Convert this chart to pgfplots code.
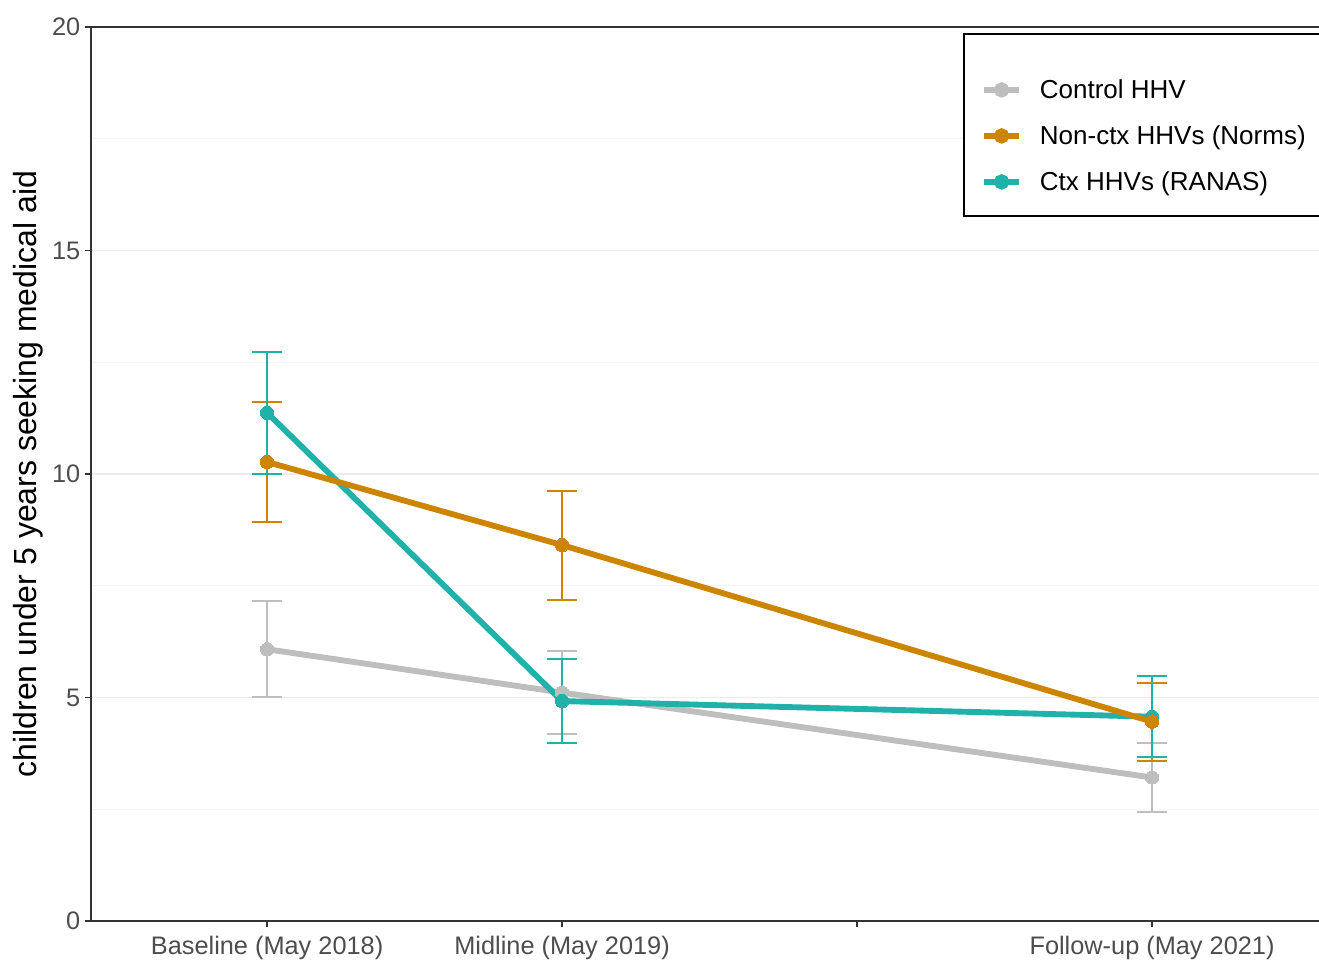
\documentclass[border=0pt]{standalone}
\usepackage{fontspec}
\setmainfont{Liberation Sans}
\usepackage{pgfplots}
\pgfplotsset{compat=1.18}
\definecolor{ctrl}{HTML}{BEBEBE}
\definecolor{norms}{HTML}{CD8500}
\definecolor{ranas}{HTML}{20B2AA}
\definecolor{axisgray}{HTML}{333333}
\definecolor{ticktext}{HTML}{4D4D4D}
\definecolor{gridmaj}{HTML}{EBEBEB}
\definecolor{gridmin}{HTML}{F4F4F4}
\begin{document}
\begin{tikzpicture}
\begin{axis}[
  scale only axis, width=921pt, height=670.5pt,
  xmin=2017.403, xmax=2021.566, ymin=0, ymax=20,
  axis x line*=box, axis y line*=left,
  axis line style={axisgray, line width=1.1pt},
  xtick={2018,2019,2020,2021},
  xticklabels={Baseline (May 2018),Midline (May 2019),,Follow-up (May 2021)},
  ytick={0,5,10,15,20},
  minor ytick={2.5,7.5,12.5,17.5},
  xtick pos=left, ytick pos=left,
  tick align=outside,
  major tick length=4.5pt, minor tick length=0pt,
  major tick style={axisgray, line width=1.1pt},
  minor tick style={draw=none},
  ymajorgrids=true, yminorgrids=true,
  major grid style={gridmaj, line width=1pt},
  minor grid style={gridmin, line width=0.8pt},
  ticklabel style={font=\fontsize{19}{22}\selectfont, text=ticktext},
  xticklabel style={yshift=-3.5pt},
  /pgf/number format/assume math mode=true,
  ylabel={children under 5 years seeking medical aid},
  ylabel style={font=\fontsize{24}{28}\selectfont, text=black, at={(axis description cs:-0.0513,0.5)}, anchor=center},
  legend cell align=left,
  legend image code/.code={\draw[#1, mark=none] (0pt,0pt) -- (26pt,0pt); \fill[#1] (13pt,0pt) circle (3.5pt);},
  legend style={at={(0.711,0.992)}, anchor=north west, draw=none, fill=none,
    font=\fontsize{19.5}{23}\selectfont, inner xsep=12.75pt, inner ysep=13.5pt,
    nodes={inner sep=0pt}, column sep=13.5pt, row sep=18.75pt},
]
% error bars (drawn first, under lines)
\addplot[forget plot, draw=none, mark=none,
  error bars/.cd, y dir=both, y explicit,
  error bar style={draw=ctrl, line width=1.5pt},
  error mark options={draw=ctrl, line width=1.5pt, mark size=11pt, rotate=90}]
  coordinates {(2018,6.08) +- (0,1.07) (2019,5.11) +- (0,0.93) (2021,3.21) +- (0,0.78)};
\addplot[forget plot, draw=none, mark=none,
  error bars/.cd, y dir=both, y explicit,
  error bar style={draw=norms, line width=1.5pt},
  error mark options={draw=norms, line width=1.5pt, mark size=11pt, rotate=90}]
  coordinates {(2018,10.27) +- (0,1.34) (2019,8.41) +- (0,1.22) (2021,4.46) +- (0,0.87)};
\addplot[forget plot, draw=none, mark=none,
  error bars/.cd, y dir=both, y explicit,
  error bar style={draw=ranas, line width=1.5pt},
  error mark options={draw=ranas, line width=1.5pt, mark size=11pt, rotate=90}]
  coordinates {(2018,11.37) +- (0,1.37) (2019,4.92) +- (0,0.945) (2021,4.57) +- (0,0.91)};
% empty first legend row (legend title space)
\addlegendimage{empty legend}
\addlegendentry{}
% lines with points
\addplot[ctrl, line width=4.4pt, mark=*, mark size=5pt, mark options={solid, line width=0pt}]
  coordinates {(2018,6.08) (2019,5.11) (2021,3.21)};
\addlegendentry{\raisebox{0pt}[14.25pt][5.25pt]{Control HHV}}
\addplot[ranas, line width=4.4pt, mark=*, mark size=5pt, mark options={solid, line width=0pt}, forget plot]
  coordinates {(2018,11.37) (2019,4.92) (2021,4.57)};
\addplot[norms, line width=4.4pt, mark=*, mark size=5pt, mark options={solid, line width=0pt}]
  coordinates {(2018,10.27) (2019,8.41) (2021,4.46)};
\addlegendentry{\raisebox{0pt}[14.25pt][5.25pt]{Non-ctx HHVs (Norms)}}
\addlegendimage{ranas, line width=4.4pt, mark=*}
\addlegendentry{\raisebox{0pt}[14.25pt][5.25pt]{Ctx HHVs (RANAS)}}
% legend frame
\draw[black, line width=1.1pt, fill=white] (axis description cs:0.7109,0.9922) rectangle (axis description cs:1.02,0.7886);
\end{axis}
\pgfresetboundingbox
\path[use as bounding box] ([xshift=-68.25pt,yshift=-30pt]current axis.south west) rectangle ++(989.25pt,720.75pt);
\end{tikzpicture}
\end{document}
